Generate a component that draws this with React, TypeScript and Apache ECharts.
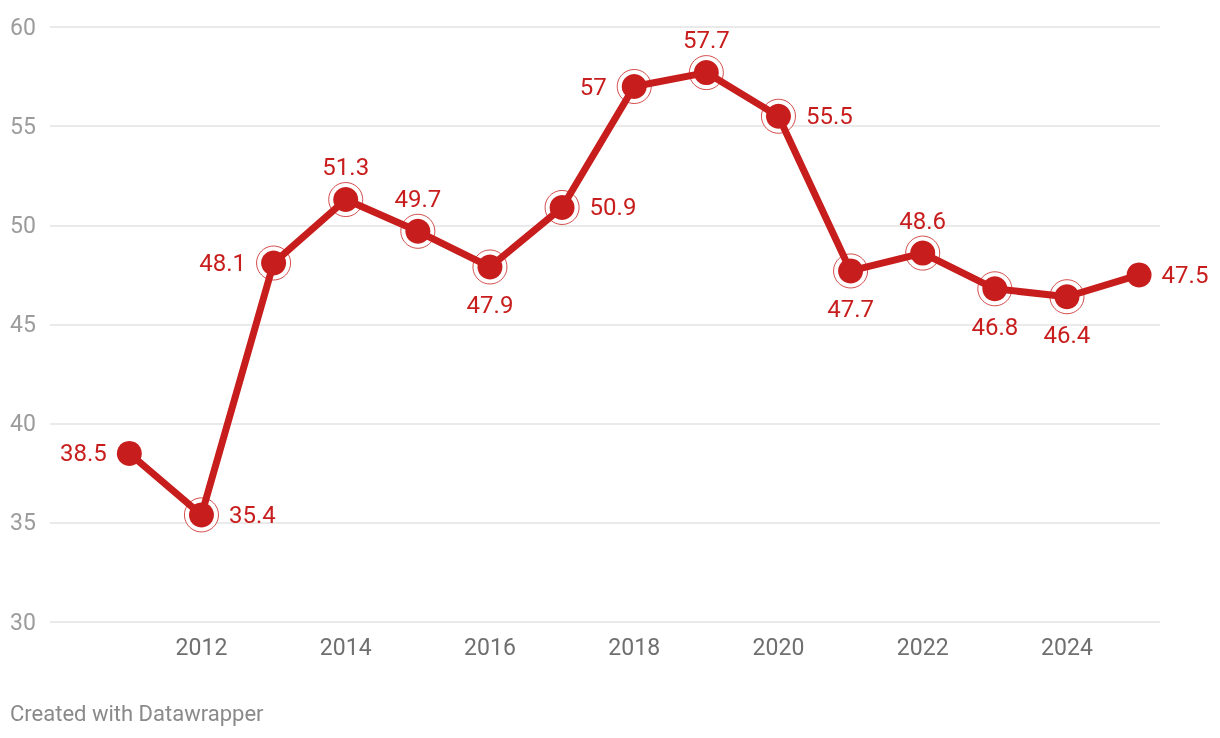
import React, { useEffect, useRef } from "react";
import * as echarts from "echarts";

const years = [2011, 2012, 2013, 2014, 2015, 2016, 2017, 2018, 2019, 2020, 2021, 2022, 2023, 2024, 2025];
const values = [38.5, 35.4, 48.1, 51.3, 49.7, 47.9, 50.9, 57, 57.7, 55.5, 47.7, 48.6, 46.8, 46.4, 47.5];
const labelPositions = ["left", "right", "left", "top", "top", "bottom", "right", "left", "top", "right", "bottom", "top", "bottom", "bottom", "right"];
const ringed = [false, true, true, true, true, true, true, true, true, true, true, true, true, true, false];
const xTicks = [2012, 2014, 2016, 2018, 2020, 2022, 2024];
const footer = "Created with Datawrapper";

const RED = "#c71e1d";

export default function App() {
  const ref = useRef<HTMLDivElement>(null);
  useEffect(() => {
    if (!ref.current) return;
    const chart = echarts.init(ref.current, undefined, { renderer: "svg" });
    const lineData = years.map((y, i) => {
      const pos = labelPositions[i];
      let distance = ringed[i] ? 15 : 10;
      if (pos === "top") distance = 8;
      if (pos === "bottom") distance = 14;
      return {
        value: [y, values[i]],
        label: { position: pos, distance },
      };
    });
    const ringData = years.map((y, i) => [y, values[i]]).filter((_, i) => ringed[i]);
    chart.setOption({
      animation: false,
      textStyle: { fontFamily: "Roboto" },
      grid: { left: 50, right: 60, top: 27, bottom: 116 },
      xAxis: {
        type: "value",
        min: 2009.9,
        max: 2025.29,
        axisLine: { show: false },
        axisTick: { show: false },
        splitLine: { show: false },
        axisLabel: {
          customValues: xTicks,
          color: "#6f6f6f",
          fontSize: 23,
          margin: 14,
          fontFamily: "Roboto",
          formatter: (v: number) => String(v),
        },
      },
      yAxis: {
        type: "value",
        min: 30,
        max: 60,
        interval: 5,
        axisLine: { show: false },
        axisTick: { show: false },
        splitLine: { lineStyle: { color: "#e3e3e3", width: 1.5 } },
        axisLabel: {
          color: "#9c9c9c",
          fontSize: 23,
          align: "left",
          margin: 40,
          fontFamily: "Roboto",
        },
      },
      graphic: [
        {
          type: "text",
          left: 10,
          top: 702,
          style: { text: footer, fill: "#8a8a8a", fontSize: 22, fontFamily: "Roboto" },
        },
      ],
      series: [
        {
          type: "scatter",
          z: 1,
          data: ringData,
          symbol: "circle",
          symbolSize: 34,
          itemStyle: { color: "#ffffff", borderColor: RED, borderWidth: 1 },
          silent: true,
        },
        {
          type: "line",
          z: 2,
          data: lineData,
          symbol: "circle",
          symbolSize: 25,
          showAllSymbol: true,
          lineStyle: { color: RED, width: 7 },
          itemStyle: { color: RED, borderWidth: 0 },
          label: {
            show: true,
            color: RED,
            fontSize: 24,
            fontFamily: "Roboto",
            formatter: (p: any) => String(p.value[1]),
          },
        },
      ],
    });
    return () => chart.dispose();
  }, []);
  return <div ref={ref} style={{ position: "fixed", left: 0, top: 0, width: 1220, height: 738 }} />;
}
